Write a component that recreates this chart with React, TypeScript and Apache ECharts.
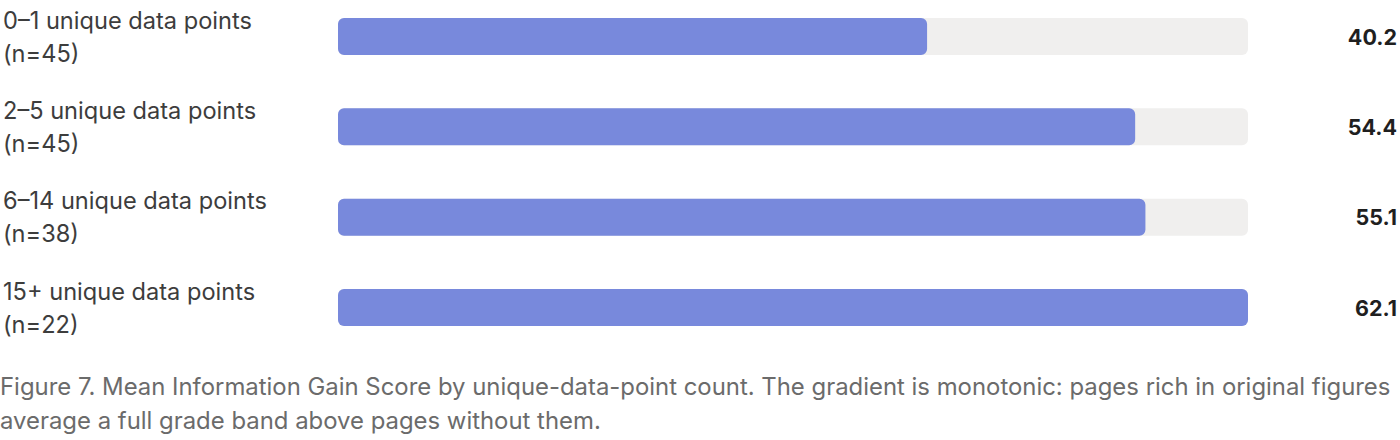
import React, { useEffect, useRef } from "react";
import * as echarts from "echarts";

const categories = [
  "0–1 unique data points",
  "2–5 unique data points",
  "6–14 unique data points",
  "15+ unique data points",
];
const counts = [45, 45, 38, 22];
const values = [40.2, 54.4, 55.1, 62.1];
const maxValue = 62.1;
const caption =
  "Figure 7. Mean Information Gain Score by unique-data-point count. The gradient is monotonic: pages rich in original figures\naverage a full grade band above pages without them.";

const FONT = "Inter, 'Noto Sans', sans-serif";

export default function App() {
  const ref = useRef<HTMLDivElement>(null);
  useEffect(() => {
    if (!ref.current) return;
    const chart = echarts.init(ref.current, null, { renderer: "svg" });
    const labels = categories.map((c, i) => `${c}\n(n=${counts[i]})`);
    chart.setOption({
      animation: false,
      backgroundColor: "#ffffff",
      textStyle: { fontFamily: FONT },
      title: {
        text: caption,
        left: 0,
        top: 369,
        padding: 0,
        textStyle: {
          fontFamily: FONT,
          fontSize: 23.9,
          fontWeight: "normal",
          color: "#6b6b6b",
          lineHeight: 34,
        },
      },
      grid: { left: 335, right: 151, top: 36.5, height: 271, containLabel: false },
      xAxis: {
        type: "value",
        min: 0,
        max: maxValue,
        show: false,
      },
      yAxis: [
        {
          type: "category",
          data: labels,
          inverse: true,
          boundaryGap: false,
          axisLine: { show: false },
          axisTick: { show: false },
          axisLabel: {
            align: "left",
            margin: 335,
            fontFamily: FONT,
            fontSize: 23.6,
            lineHeight: 33,
            color: "#3d3d3d",
          },
        },
        {
          type: "category",
          data: values.map((v) => v.toFixed(1)),
          inverse: true,
          boundaryGap: false,
          position: "right",
          axisLine: { show: false },
          axisTick: { show: false },
          axisLabel: {
            align: "right",
            margin: 149,
            fontFamily: FONT,
            fontSize: 21.5,
            fontWeight: "bold",
            color: "#1f1f1f",
          },
        },
      ],
      series: [
        {
          type: "bar",
          data: values,
          barWidth: 37,
          itemStyle: { color: "#7889dc", borderRadius: 6 },
          showBackground: true,
          backgroundStyle: { color: "#f0efee", borderRadius: 6 },
          silent: true,
        },
      ],
    });
    return () => chart.dispose();
  }, []);
  return (
    <div
      ref={ref}
      style={{ position: "fixed", left: 0, top: 0, width: 1400, height: 440 }}
    />
  );
}
